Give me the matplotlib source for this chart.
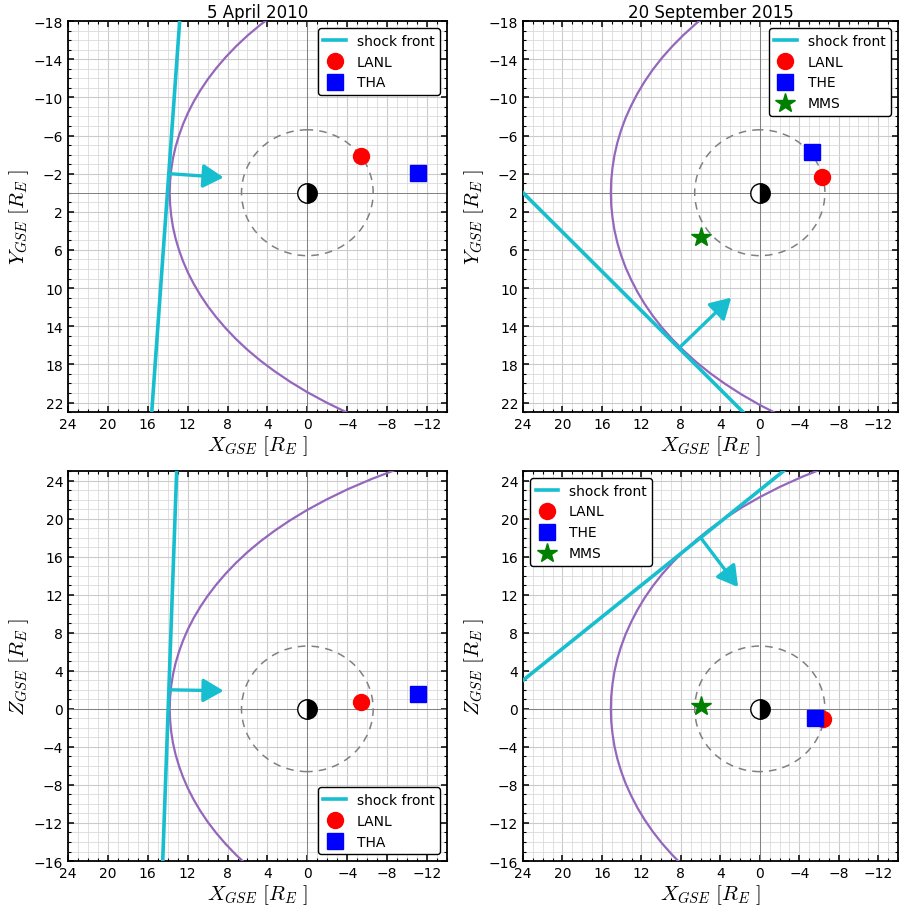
import numpy as np
import matplotlib.pyplot as plt
from matplotlib.ticker import MultipleLocator, FixedLocator

plt.rcParams['mathtext.fontset'] = 'cm'
plt.rcParams['font.size'] = 10

# magnetopause (upper half, mirrored for the other side)
mp_x_2010 = [13.80, 13.76, 13.65, 13.47, 13.21, 12.87, 12.46, 11.97, 11.39, 10.73, 9.98, 9.14,
             8.20, 7.16, 6.00, 4.72, 3.30, 1.73, 0.00, -1.93, -4.07, -6.48, -9.20]
mp_r_2010 = [0.00, 1.20, 2.41, 3.61, 4.81, 6.00, 7.19, 8.38, 9.56, 10.73, 11.90, 13.05,
             14.20, 15.34, 16.48, 17.60, 18.71, 19.82, 20.92, 22.01, 23.10, 24.18, 25.27]
mp_x_2015 = [15.10, 15.06, 14.93, 14.73, 14.44, 14.06, 13.60, 13.04, 12.40, 11.67, 10.84, 9.91,
             8.87, 7.72, 6.46, 5.07, 3.53, 1.85, 0.00, -2.04, -4.30, -6.81, -9.63]
mp_r_2015 = [0.00, 1.32, 2.63, 3.95, 5.25, 6.56, 7.85, 9.13, 10.41, 11.67, 12.92, 14.15,
             15.36, 16.56, 17.74, 18.90, 20.04, 21.16, 22.26, 23.34, 24.40, 25.43, 26.45]

geo_radius = 6.6

# shock front end points and normal arrows (start, tip)
shock_xy_2010 = ([12.8, 15.6], [-18.0, 23.0])
arrow_xy_2010 = ((13.9, -2.0), (8.4, -1.6))
shock_xz_2010 = ([13.1, 14.5], [25.0, -16.0])
arrow_xz_2010 = ((13.8, 2.0), (8.4, 1.9))
shock_xy_2015 = ([24.0, 1.7], [0.0, 23.0])
arrow_xy_2015 = ((8.1, 16.2), (2.9, 11.0))
shock_xz_2015 = ([24.0, -2.4], [3.0, 25.0])
arrow_xz_2015 = ((6.0, 18.0), (2.2, 12.8))

# spacecraft positions
lanl_xy_2010 = (-5.4, -3.8)
tha_xy_2010 = (-11.1, -2.1)
lanl_xz_2010 = (-5.4, 0.7)
tha_xz_2010 = (-11.1, 1.55)
lanl_xy_2015 = (-6.3, -1.7)
the_xy_2015 = (-5.3, -4.3)
mms_xy_2015 = (6.0, 4.6)
lanl_xz_2015 = (-6.4, -1.1)
the_xz_2015 = (-5.6, -1.0)
mms_xz_2015 = (6.0, 0.25)

cyan = '#17becf'
purple = '#9467bd'


def setup(ax, ylim, yticks, ylabel, title=None):
    ax.set_xlim(24, -14)
    ax.set_ylim(*ylim)
    ax.xaxis.set_major_locator(FixedLocator(np.arange(24, -13, -4)))
    ax.yaxis.set_major_locator(FixedLocator(yticks))
    ax.xaxis.set_minor_locator(MultipleLocator(1))
    ax.yaxis.set_minor_locator(MultipleLocator(1))
    ax.grid(which='minor', color='#dadada', lw=0.6)
    ax.grid(which='major', color='#cbcbcb', lw=0.8)
    ax.set_axisbelow(True)
    ax.axhline(0, color='gray', lw=0.7, zorder=1)
    ax.axvline(0, color='gray', lw=0.7, zorder=1)
    ax.tick_params(which='both', direction='in', top=True, right=True)
    ax.tick_params(which='major', length=4.5, width=1.1, labelsize=10)
    ax.tick_params(which='minor', length=2.5, width=0.8)
    for s in ax.spines.values():
        s.set_linewidth(1.3)
    ax.set_xlabel(r'$X_{GSE}\ [R_E\ ]$', fontsize=15, labelpad=2)
    ax.set_ylabel(ylabel, fontsize=15, labelpad=2)
    if title:
        ax.set_title(title, fontsize=12, pad=2)


def draw(ax, mp_x, mp_r, shock, arrow):
    x = np.concatenate([mp_x[::-1], mp_x[1:]])
    r = np.concatenate([-np.array(mp_r[::-1]), mp_r[1:]])
    ax.plot(x, r, color=purple, lw=1.6, zorder=3)
    circ = plt.Circle((0, 0), geo_radius, fill=False, ls=(0, (5, 4)), color='gray', lw=1.1, zorder=3)
    ax.add_patch(circ)
    ax.plot(0, 0, marker='o', fillstyle='right', markerfacecolor='black',
            markerfacecoloralt='white', markeredgecolor='black', markersize=14, mew=1.0, zorder=5)
    ax.plot(shock[0], shock[1], color=cyan, lw=2.6, zorder=4, label='shock front')
    ax.annotate('', xy=arrow[1], xytext=arrow[0],
                arrowprops=dict(arrowstyle='-|>,head_length=0.62,head_width=0.36', color=cyan,
                                lw=2.4, mutation_scale=20, shrinkA=0, shrinkB=0), zorder=4)


def legend(ax, loc):
    ax.legend(loc=loc, numpoints=1, handlelength=1.6, fontsize=10,
              framealpha=1, edgecolor='black', borderaxespad=0.5)


fig = plt.figure(figsize=(8.99, 9.12), dpi=100)
ax1 = fig.add_axes([0.0756, 0.5471, 0.4216, 0.4287])
ax2 = fig.add_axes([0.5818, 0.5471, 0.4170, 0.4287])
ax3 = fig.add_axes([0.0756, 0.0548, 0.4216, 0.4276])
ax4 = fig.add_axes([0.5818, 0.0548, 0.4170, 0.4276])

yt_top = np.arange(-18, 23, 4)
yt_bot = np.arange(-16, 25, 4)

ms = 11.5
# 5 April 2010, XY
setup(ax1, (23, -18), yt_top, r'$Y_{GSE}\ [R_E\ ]$', '5 April 2010')
draw(ax1, mp_x_2010, mp_r_2010, shock_xy_2010, arrow_xy_2010)
ax1.plot(*lanl_xy_2010, 'o', color='red', ms=ms, label='LANL', zorder=6)
ax1.plot(*tha_xy_2010, 's', color='blue', ms=ms, label='THA', zorder=6)
legend(ax1, 'upper right')

# 20 September 2015, XY
setup(ax2, (23, -18), yt_top, r'$Y_{GSE}\ [R_E\ ]$', '20 September 2015')
draw(ax2, mp_x_2015, mp_r_2015, shock_xy_2015, arrow_xy_2015)
ax2.plot(*lanl_xy_2015, 'o', color='red', ms=ms, label='LANL', zorder=6)
ax2.plot(*the_xy_2015, 's', color='blue', ms=ms, label='THE', zorder=6)
ax2.plot(*mms_xy_2015, '*', color='green', ms=15, label='MMS', zorder=6)
legend(ax2, 'upper right')

# 5 April 2010, XZ
setup(ax3, (-16, 25), yt_bot, r'$Z_{GSE}\ [R_E\ ]$')
draw(ax3, mp_x_2010, mp_r_2010, shock_xz_2010, arrow_xz_2010)
ax3.plot(*lanl_xz_2010, 'o', color='red', ms=ms, label='LANL', zorder=6)
ax3.plot(*tha_xz_2010, 's', color='blue', ms=ms, label='THA', zorder=6)
legend(ax3, 'lower right')

# 20 September 2015, XZ
setup(ax4, (-16, 25), yt_bot, r'$Z_{GSE}\ [R_E\ ]$')
draw(ax4, mp_x_2015, mp_r_2015, shock_xz_2015, arrow_xz_2015)
ax4.plot(*lanl_xz_2015, 'o', color='red', ms=ms, label='LANL', zorder=6)
ax4.plot(*the_xz_2015, 's', color='blue', ms=ms, label='THE', zorder=6)
ax4.plot(*mms_xz_2015, '*', color='green', ms=15, label='MMS', zorder=6)
legend(ax4, 'upper left')

fig.savefig('out.png', dpi=100)
